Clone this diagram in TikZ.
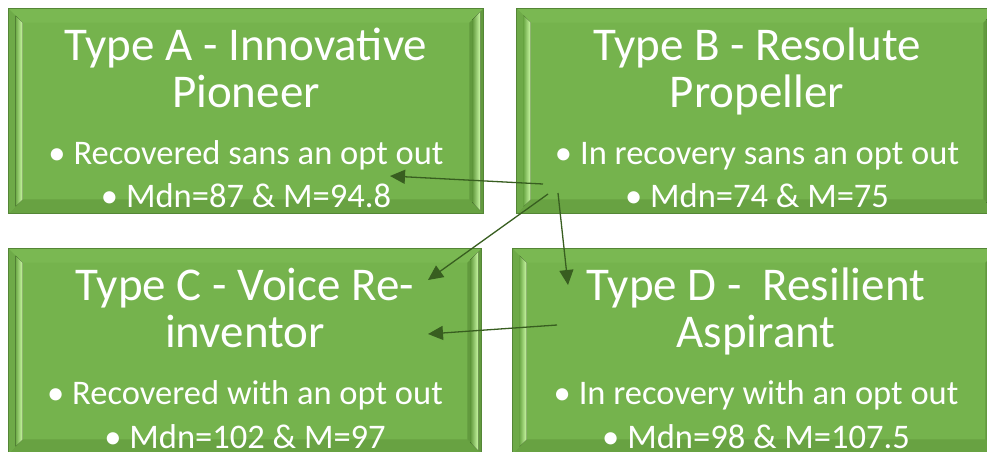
\documentclass[tikz,border=0pt]{standalone}
\usepackage{fontspec}
\setmainfont{Carlito}
\usetikzlibrary{arrows.meta,calc}

\definecolor{facegreen}{RGB}{117,179,77}
\definecolor{edgegreen}{RGB}{84,134,54}
\definecolor{glowgreen}{RGB}{206,252,168}
\definecolor{topgreen}{RGB}{122,184,82}
\definecolor{lowgreen}{RGB}{104,162,66}
\definecolor{sidegreen}{RGB}{110,170,72}
\definecolor{shadegreen}{RGB}{98,154,62}
\definecolor{arrowgreen}{RGB}{56,94,32}

\tikzset{
  card/.style={fill=facegreen, draw=edgegreen, line width=0.8pt, inner sep=0pt,
               minimum width=#1, minimum height=204pt},
  headline/.style={text=white, font=\fontsize{47}{50}\selectfont, anchor=base, inner sep=0pt},
  point/.style={text=white, font=\fontsize{34.5}{40}\selectfont, anchor=base, inner sep=0pt},
  link/.style={draw=arrowgreen, line width=1.3pt, -{Triangle[length=15pt,width=14pt]}}
}

% bullet mark with its gap
\newcommand\dotmark{•\hspace{8pt}}

% bevelled rim drawn over a card node
\newcommand\bevelrim[1]{%
  \fill[topgreen] (#1.north west) -- (#1.north east) -- ($(#1.north east)+(-14,14)$)
    -- ($(#1.north west)+(14,14)$) -- cycle;
  \fill[lowgreen] (#1.south west) -- (#1.south east) -- ($(#1.south east)+(-14,-14)$)
    -- ($(#1.south west)+(14,-14)$) -- cycle;
  \fill[sidegreen] (#1.north west) -- ($(#1.north west)+(14,14)$)
    -- ($(#1.south west)+(14,-14)$) -- (#1.south west) -- cycle;
  \fill[left color=sidegreen, right color=glowgreen] ($(#1.north west)+(7,7)$)
    -- ($(#1.north west)+(14,14)$) -- ($(#1.south west)+(14,-14)$)
    -- ($(#1.south west)+(7,-7)$) -- cycle;
  \fill[shadegreen] (#1.north east) -- ($(#1.north east)+(-14,14)$)
    -- ($(#1.south east)+(-14,-14)$) -- (#1.south east) -- cycle;
  \fill[left color=shadegreen, right color=glowgreen] ($(#1.north east)+(-11,11)$)
    -- ($(#1.north east)+(-3,3)$) -- ($(#1.south east)+(-3,-3)$)
    -- ($(#1.south east)+(-11,-11)$) -- cycle;
  \draw[edgegreen, line width=0.8pt] (#1.north west) rectangle (#1.south east);
}

\begin{document}
\begin{tikzpicture}[x=1pt, y=-1pt]
  \useasboundingbox (0,0) rectangle (987,451);
  \clip (0,0) rectangle (987,451);
  \fill[white] (0,0) rectangle (987,451);

  % the four cards
  \node[card=474pt] (A) at (246,111) {};
  \node[card=480pt] (B) at (757,111) {};
  \node[card=472pt] (C) at (245,351) {};
  \node[card=486pt] (D) at (756,351) {};
  \bevelrim{A}
  \bevelrim{B}
  \bevelrim{C}
  \bevelrim{D}

  % card texts
  \node[headline] (A1) at (246,60)  {Type A - Innovative};
  \node[headline] (A2) at (246,107) {Pioneer};
  \node[point]    (A3) at (246,164) {\dotmark Recovered sans an opt out};
  \node[point]    (A4) at (246,207) {\dotmark Mdn=87 \& M=94.8};

  \node[headline] (B1) at (757,60)  {Type B - Resolute};
  \node[headline] (B2) at (757,107) {Propeller};
  \node[point]    (B3) at (757,164) {\dotmark In recovery sans an opt out};
  \node[point]    (B4) at (757,207) {\dotmark Mdn=74 \& M=75};

  \node[headline] (C1) at (245,300) {Type C - Voice Re-};
  \node[headline] (C2) at (245,347) {inventor};
  \node[point]    (C3) at (245,404) {\dotmark Recovered with an opt out};
  \node[point]    (C4) at (245,448) {\dotmark Mdn=102 \& M=97};

  \node[headline] (D1) at (756,300) {Type D - \ Resilient};
  \node[headline] (D2) at (756,347) {Aspirant};
  \node[point]    (D3) at (756,404) {\dotmark In recovery with an opt out};
  \node[point]    (D4) at (756,448) {\dotmark Mdn=98 \& M=107.5};

  % connector ends
  \coordinate (bOutA) at (543,184);
  \coordinate (bOutC) at (548,194);
  \coordinate (bOutD) at (558,193);
  \coordinate (dOutC) at (557,325);
  \coordinate (aIn)   at (390,176);
  \coordinate (cInB)  at (428,280);
  \coordinate (dIn)   at (568,285);
  \coordinate (cInD)  at (428,334);

  \draw[link] (bOutA) -- (aIn);
  \draw[link] (bOutC) -- (cInB);
  \draw[link] (bOutD) -- (dIn);
  \draw[link] (dOutC) -- (cInD);
\end{tikzpicture}
\end{document}
